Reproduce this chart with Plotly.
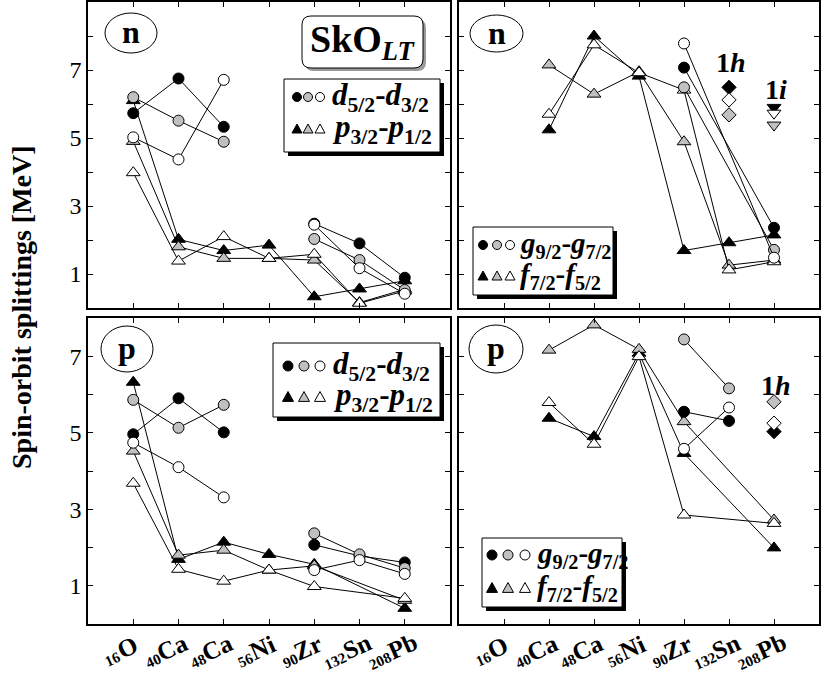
import math
import plotly.graph_objects as go

W, H = 823, 677
FONT = "Liberation Serif"

# ---------------- data ----------------
NUCLEI = ["16O", "40Ca", "48Ca", "56Ni", "90Zr", "132Sn", "208Pb"]
MASS = ["16", "40", "48", "56", "90", "132", "208"]
ELEMENT = ["O", "Ca", "Ca", "Ni", "Zr", "Sn", "Pb"]
Y_TICKS_TOP = [1, 2, 3, 4, 5, 6, 7, 8]
Y_TICKS_BOT = [1, 2, 3, 4, 5, 6, 7]

# neutrons, d5/2-d3/2 (circles) and p3/2-p1/2 (triangles)
N_D_BLACK = [5.73, 6.75, 5.33, None, 2.48, 1.90, 0.89]
N_D_GRAY = [6.20, 5.51, 4.89, None, 2.03, 1.41, 0.53]
N_D_WHITE = [5.02, 4.37, 6.71, None, 2.45, 1.17, 0.42]
N_P_BLACK = [6.10, 2.02, 1.69, 1.85, 0.33, 0.56, 0.80]
N_P_GRAY = [4.90, 1.80, 1.46, 1.46, 1.41, 0.16, 0.55]
N_P_WHITE = [3.98, 1.38, 2.10, 1.46, 1.58, 0.14, 0.50]
# neutrons, g9/2-g7/2 (circles) and f7/2-f5/2 (triangles)
N_G_BLACK = [None, None, None, None, 7.07, None, 2.36]
N_G_GRAY = [None, None, None, None, 6.49, None, 1.71]
N_G_WHITE = [None, None, None, None, 7.78, None, 1.48]
N_F_BLACK = [None, 5.24, 8.00, 6.82, 1.69, 1.92, 2.15]
N_F_GRAY = [None, 7.15, 6.29, 6.95, 4.89, 1.26, 1.41]
N_F_WHITE = [None, 5.70, 7.74, 6.92, 6.41, 1.12, 1.36]
N_1H_AT = "132Sn"
N_1H = [6.49, 5.68, 6.12]      # black, gray, white
N_1I_AT = "208Pb"
N_1I = [5.90, 5.38, 5.73]      # black, gray, white

# protons
P_D_BLACK = [4.96, 5.90, 5.01, None, 2.07, 1.78, 1.61]
P_D_GRAY = [5.86, 5.13, 5.73, None, 2.37, 1.82, 1.46]
P_D_WHITE = [4.74, 4.10, 3.31, None, 1.41, 1.67, 1.31]
P_P_BLACK = [6.32, 1.69, 2.14, 1.82, 1.56, None, 0.41]
P_P_GRAY = [4.52, 1.80, 1.93, 1.41, 1.52, None, 0.62]
P_P_WHITE = [3.68, 1.43, 1.12, 1.41, 0.98, None, 0.67]
P_G_BLACK = [None, None, None, None, 5.55, 5.31, None]
P_G_GRAY = [None, None, None, None, 7.44, 6.16, None]
P_G_WHITE = [None, None, None, None, 4.58, 5.66, None]
P_F_BLACK = [None, 5.38, 4.90, 7.08, 4.46, None, 1.99]
P_F_GRAY = [None, 7.16, 7.82, 7.18, 5.29, None, 2.72]
P_F_WHITE = [None, 5.79, 4.70, 6.99, 2.85, None, 2.63]
P_1H_AT = "208Pb"
P_1H = [5.03, 5.81, 5.25]      # black, gray, white

BLACK, GRAY, WHITE = "#000000", "#c0c0c0", "#ffffff"
FILLS = [BLACK, GRAY, WHITE]

fig = go.Figure()


def series(ax, vals, symbol, color, size, connect=False):
    fig.add_trace(go.Scatter(
        x=NUCLEI, y=vals, mode="lines+markers", connectgaps=connect,
        line=dict(color="black", width=1),
        marker=dict(symbol=symbol, size=size, color=color,
                    line=dict(color="black", width=1)),
        xaxis="x" + ax, yaxis="y" + ax, showlegend=False, hoverinfo="skip"))


def singles(ax, at, vals, symbol, size):
    for v, c in zip(vals, FILLS):
        fig.add_trace(go.Scatter(
            x=[at], y=[v], mode="markers",
            marker=dict(symbol=symbol, size=size, color=c,
                        line=dict(color="black", width=1)),
            xaxis="x" + ax, yaxis="y" + ax, showlegend=False, hoverinfo="skip"))


TRI, CIR = "triangle-up", "circle"
# panel 1: top-left (n, d/p)
for vals, c in zip([N_P_BLACK, N_P_GRAY, N_P_WHITE], FILLS):
    series("", vals, TRI, c, 12)
for vals, c in zip([N_D_BLACK, N_D_GRAY, N_D_WHITE], FILLS):
    series("", vals, CIR, c, 11)
# panel 2: top-right (n, g/f)
for vals, c in zip([N_F_BLACK, N_F_GRAY, N_F_WHITE], FILLS):
    series("2", vals, TRI, c, 12)
for vals, c in zip([N_G_BLACK, N_G_GRAY, N_G_WHITE], FILLS):
    series("2", vals, CIR, c, 11, connect=True)
singles("2", N_1H_AT, N_1H, "diamond", 11)
singles("2", N_1I_AT, N_1I, "triangle-down", 12)
# panel 3: bottom-left (p, d/p)
for vals, c in zip([P_P_BLACK, P_P_GRAY, P_P_WHITE], FILLS):
    series("3", vals, TRI, c, 12, connect=True)
for vals, c in zip([P_D_BLACK, P_D_GRAY, P_D_WHITE], FILLS):
    series("3", vals, CIR, c, 11)
# panel 4: bottom-right (p, g/f)
for vals, c in zip([P_F_BLACK, P_F_GRAY, P_F_WHITE], FILLS):
    series("4", vals, TRI, c, 12, connect=True)
for vals, c in zip([P_G_BLACK, P_G_GRAY, P_G_WHITE], FILLS):
    series("4", vals, CIR, c, 11)
singles("4", P_1H_AT, P_1H, "diamond", 11)


def px(x):
    return x / W


def py(y):
    return 1 - y / H


XL = [px(88), px(450)]
XR = [px(459), px(819)]
YT = [py(308), py(2)]
YB = [py(624), py(318)]


def xax(domain, anchor):
    return dict(domain=domain, anchor=anchor, type="category", categoryarray=NUCLEI,
                range=[-1, 7], tickvals=NUCLEI, showticklabels=False,
                ticks="inside", ticklen=5, tickwidth=1, tickcolor="black",
                showline=True, linewidth=1.5, linecolor="black", mirror="ticks",
                showgrid=False, zeroline=False, fixedrange=True)


def yax(domain, anchor, rng, vals, labels):
    return dict(domain=domain, anchor=anchor, range=rng, tickvals=vals,
                ticktext=[str(v) if v % 2 == 1 else "" for v in vals],
                showticklabels=labels,
                tickfont=dict(family=FONT, size=24, color="black"),
                ticks="inside", ticklen=5, tickwidth=1, tickcolor="black",
                showline=True, linewidth=1.5, linecolor="black", mirror="ticks",
                showgrid=False, zeroline=False, fixedrange=True)


shapes = []
annots = []


def box_shadow(x0, y0, x1, y1, off=4):
    shapes.append(dict(type="rect", xref="paper", yref="paper", layer="above",
                       x0=px(x0 + off), x1=px(x1 + off), y0=py(y1 + off), y1=py(y0 + off),
                       fillcolor="black", line=dict(width=0)))
    shapes.append(dict(type="rect", xref="paper", yref="paper", layer="above",
                       x0=px(x0), x1=px(x1), y0=py(y1), y1=py(y0),
                       fillcolor="white", line=dict(color="black", width=1)))


def circ(cx, cy, r, fill):
    shapes.append(dict(type="circle", xref="paper", yref="paper", layer="above",
                       x0=px(cx - r), x1=px(cx + r), y0=py(cy + r), y1=py(cy - r),
                       fillcolor=fill, line=dict(color="black", width=1)))


def tri(cx, cy, r, fill):
    path = "M {} {} L {} {} L {} {} Z".format(px(cx), py(cy - r), px(cx + r), py(cy + 0.8 * r),
                                             px(cx - r), py(cy + 0.8 * r))
    shapes.append(dict(type="path", path=path, xref="paper", yref="paper", layer="above",
                       fillcolor=fill, line=dict(color="black", width=1)))


def text(x, y, s, size, anchor="left", angle=0):
    annots.append(dict(x=px(x), y=py(y), xref="paper", yref="paper", text=s, showarrow=False,
                       xanchor=anchor, yanchor="middle", textangle=angle,
                       font=dict(family=FONT, size=size, color="black")))


def legend(box, rows_y, sym_x, text_x, r, t1, t2, size):
    box_shadow(*box)
    for sx, c in zip(sym_x, FILLS):
        circ(sx, rows_y[0], r, c)
        tri(sx, rows_y[1], r + 0.5, c)
    text(text_x, rows_y[0], t1, size)
    text(text_x, rows_y[1], t2, size)


T_D = "<b><i>d</i><sub>5/2</sub>-<i>d</i><sub>3/2</sub></b>"
T_P = "<b><i>p</i><sub>3/2</sub>-<i>p</i><sub>1/2</sub></b>"
T_G = "<b><i>g</i><sub>9/2</sub>-<i>g</i><sub>7/2</sub></b>"
T_F = "<b><i>f</i><sub>7/2</sub>-<i>f</i><sub>5/2</sub></b>"

legend((284, 79, 440, 152), (97, 129), (297, 308, 320), 330, 4.5, T_D, T_P, 31)
legend((473, 227, 613, 295), (245, 276), (483, 497, 510), 518, 4.5, T_G, T_F, 29)
legend((273, 343, 440, 417), (366, 397), (288, 304, 320), 331, 5, T_D, T_P, 31)
legend((482, 538, 622, 607), (555, 588), (492, 508, 525), 535, 5, T_G, T_F, 29)


def ellipse(x0, y0, x1, y1, s):
    shapes.append(dict(type="circle", xref="paper", yref="paper", layer="above",
                       x0=px(x0), x1=px(x1), y0=py(y1), y1=py(y0),
                       fillcolor="white", line=dict(color="black", width=1)))
    text((x0 + x1) / 2, (y0 + y1) / 2 - 1, "<b>" + s + "</b>", 32, anchor="center")


ellipse(105, 13, 157, 53, "n")
ellipse(470, 15, 523, 52, "n")
ellipse(101, 326, 153, 372, "p")
ellipse(469, 325, 523, 373, "p")


# SkO_LT rounded box with soft shadow
def rrect(x0, y0, x1, y1, rad, fill, line):
    p = ("M {a} {b} L {c} {b} Q {d} {b} {d} {e} L {d} {f} Q {d} {g} {c} {g} "
         "L {a} {g} Q {h} {g} {h} {f} L {h} {e} Q {h} {b} {a} {b} Z").format(
        a=px(x0 + rad), b=py(y0), c=px(x1 - rad), d=px(x1), e=py(y0 + rad),
        f=py(y1 - rad), g=py(y1), h=px(x0))
    shapes.append(dict(type="path", path=p, xref="paper", yref="paper", layer="above",
                       fillcolor=fill, line=line))


rrect(305, 19, 426, 71, 9, "#9a9a9a", dict(width=0))
rrect(302, 16, 423, 68, 9, "white", dict(color="black", width=1))
text(363, 42, "<b>SkO<sub><i>LT</i></sub></b>", 38, anchor="center")

text(731, 63, "<b>1<i>h</i></b>", 28, anchor="center")
text(776, 90, "<b>1<i>i</i></b>", 28, anchor="center")
text(776, 385, "<b>1<i>h</i></b>", 28, anchor="center")

text(21, 307, "<b>Spin-orbit splittings [MeV]</b>", 28, anchor="center", angle=-90)

# slanted nucleus labels under the bottom panels: small mass number + element,
# each piece placed along a baseline tilted by ANG degrees
ANG = math.radians(24.0)
M_SIZE, E_SIZE = 15, 25
EL_EM = {"O": 0.778, "Ca": 1.222, "Ni": 1.0, "Zr": 1.111, "Sn": 1.112, "Pb": 1.167}
ux, uy = math.cos(ANG), -math.sin(ANG)      # along baseline (screen coords, y down)
nx, ny = math.sin(ANG), math.cos(ANG)       # perpendicular, pointing down
for ax in ("x3", "x4"):
    for nuc, m, el in zip(NUCLEI, MASS, ELEMENT):
        wm = 0.5 * M_SIZE * len(m)
        we = EL_EM[el] * E_SIZE
        tot = wm + we
        cx, cy = -13.0, 0.0
        pieces = [(m, M_SIZE, -(tot / 2 - wm / 2), 4.5),
                  (el, E_SIZE, tot / 2 - we / 2, 0.0)]
        for s, size, along, down in pieces:
            dxp = cx + along * ux + down * nx
            dyp = cy + along * uy + down * ny
            annots.append(dict(x=nuc, xref=ax, y=py(651), yref="paper", text=s,
                               showarrow=False, textangle=-24, xanchor="center",
                               yanchor="middle", xshift=dxp, yshift=-dyp,
                               font=dict(family=FONT, size=size, color="black",
                                         weight="bold")))

fig.update_layout(
    width=W, height=H, margin=dict(l=0, r=0, t=0, b=0),
    paper_bgcolor="white", plot_bgcolor="white",
    xaxis=xax(XL, "y"), yaxis=yax(YT, "x", [0, 9], Y_TICKS_TOP, True),
    xaxis2=xax(XR, "y2"), yaxis2=yax(YT, "x2", [0, 9], Y_TICKS_TOP, False),
    xaxis3=xax(XL, "y3"), yaxis3=yax(YB, "x3", [0, 8], Y_TICKS_BOT, True),
    xaxis4=xax(XR, "y4"), yaxis4=yax(YB, "x4", [0, 8], Y_TICKS_BOT, False),
    shapes=shapes, annotations=annots, showlegend=False,
)

fig.write_html("out.html")
